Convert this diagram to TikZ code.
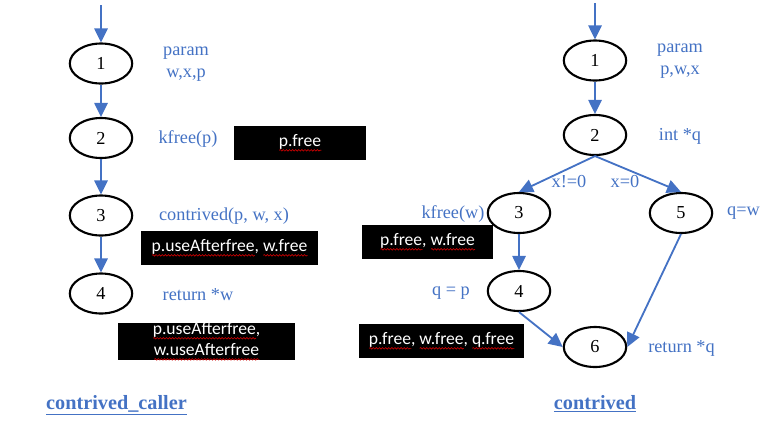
\documentclass[tikz,border=0pt]{standalone}
\usepackage{fontspec}
\setmainfont{Liberation Serif}
\newfontfamily\boxfont{Carlito}
\usetikzlibrary{arrows.meta,shapes.geometric,decorations.pathmorphing}
\definecolor{flowblue}{HTML}{4472C4}
\newcommand\redwave[1]{\setbox0\hbox{#1}\leavevmode\rlap{\tikz[baseline=0pt]
  \draw[red!80!black, line width=0.45pt, decorate,
        decoration={snake, amplitude=0.55pt, segment length=2.2pt}]
        (0pt,-2.6pt) -- (\the\wd0,-2.6pt);}\box0}

\begin{document}
\begin{tikzpicture}[x=0.025cm, y=-0.025cm,
    state/.style={ellipse, draw=black, line width=1.5pt, minimum width=1.56cm,
                  minimum height=1.0cm, inner sep=0pt, font=\fontsize{13}{15}\selectfont},
    lbl/.style={text=flowblue, inner sep=0pt, align=center,
                font=\fontsize{13}{15.6}\selectfont},
    msg/.style={fill=black, text=white, inner sep=0pt, align=center,
                font=\boxfont\fontsize{12.5}{15}\selectfont},
    heading/.style={text=flowblue, inner sep=0pt, font=\bfseries\fontsize{14.4}{17}\selectfont},
    flow/.style={draw=flowblue, line width=1.3pt, -{Triangle[length=10pt,width=9.5pt]}}]
  \useasboundingbox (0,0) rectangle (774,430);

  % contrived_caller
  \coordinate (Lin) at (101,5);
  \node[state] (L1) at (101, 63.5) {1};
  \node[state] (L2) at (101,138)   {2};
  \node[state] (L3) at (101,215.5) {3};
  \node[state] (L4) at (101,293.5) {4};
  \node[lbl] (Lparam)  at (186, 64)  {param\\w,x,p};
  \node[lbl] (Lkfree)  at (188,139)  {kfree(p)};
  \node[lbl] (Lcall)   at (224,216)  {contrived(p, w, x)};
  \node[lbl] (Lret)    at (198,295)  {return *w};
  \node[msg, minimum width=3.3cm, minimum height=0.85cm] (Lm2) at (300,143)
    {\redwave{p.free}};
  \node[msg, minimum width=4.425cm, minimum height=0.85cm] (Lm3) at (229.5,248)
    {\redwave{p.useAfterfree}, \redwave{w.free}};
  \node[msg, minimum width=4.425cm, minimum height=0.875cm] (Lm4) at (206.5,341.5)
    {\redwave{p.useAfterfree},\\\redwave{w.useAfterfree}};
  \node[heading] (Ltitle) at (116.5,405) {\underline{contrived\_caller}};
  \draw[flow] (Lin) -- (L1);
  \draw[flow] (L1) -- (L2);
  \draw[flow] (L2) -- (L3);
  \draw[flow] (L3) -- (L4);

  % contrived
  \coordinate (Rin) at (595,3);
  \node[state] (R1) at (595, 60.5) {1};
  \node[state] (R2) at (595,135)   {2};
  \node[state] (R3) at (519,213)   {3};
  \node[state] (R5) at (681,213)   {5};
  \node[state] (R4) at (519,291)   {4};
  \node[state] (R6) at (595,347)   {6};
  \node[lbl] (Rparam) at (680, 61)   {param\\p,w,x};
  \node[lbl] (Rint)   at (680,136)   {int *q};
  \node[lbl] (Rne)    at (569,182)   {x!=0};
  \node[lbl] (Req)    at (625,182)   {x=0};
  \node[lbl] (Rkfree) at (453,214)   {kfree(w)};
  \node[lbl] (Rqw)    at (743.5,213) {q=w};
  \node[lbl] (Rqp)    at (451,293)   {q = p};
  \node[lbl] (Rret)   at (681.5,348) {return *q};
  \node[msg, minimum width=3.275cm, minimum height=0.85cm] (Rm3) at (427.5,242)
    {\redwave{p.free}, \redwave{w.free}};
  \node[msg, minimum width=4.125cm, minimum height=0.85cm] (Rm4) at (441.5,341)
    {\redwave{p.free}, \redwave{w.free}, \redwave{q.free}};
  \node[heading] (Rtitle) at (595,404) {\underline{contrived}};
  \draw[flow] (Rin) -- (R1);
  \draw[flow] (R1) -- (R2);
  \draw[flow] (R2.south) -- (R3.north);
  \draw[flow] (R2.south) -- (R5.north);
  \draw[flow] (R3) -- (R4);
  \draw[flow] (R4.south) -- (R6.west);
  \draw[flow] (R5.south) -- (R6.east);
\end{tikzpicture}
\end{document}
